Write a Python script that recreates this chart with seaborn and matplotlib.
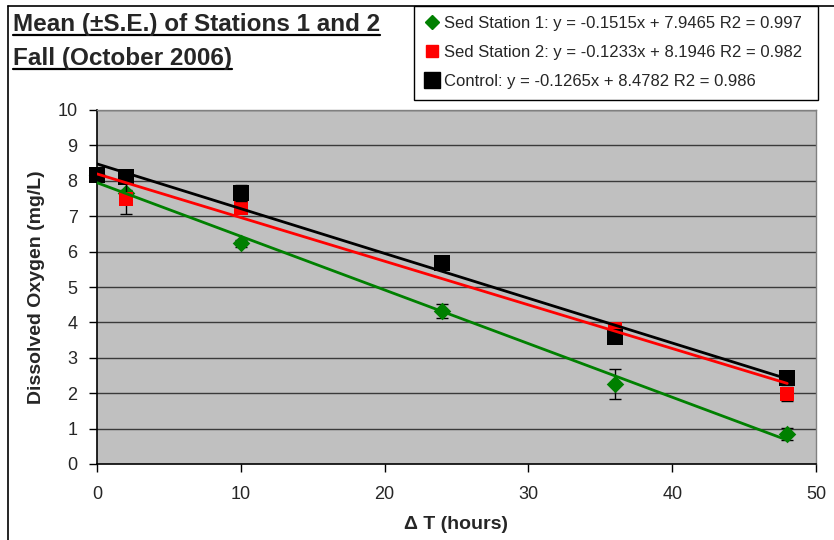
import numpy as np
import pandas as pd
import seaborn as sns
import matplotlib
matplotlib.use("Agg")
import matplotlib.pyplot as plt
from matplotlib.lines import Line2D

# Sampling times (hours after start)
hours = [0, 2, 10, 24, 36, 48]

# Dissolved oxygen means and standard errors (mg/L)
sed1_mean = [8.15, 7.65, 6.23, 4.33, 2.27, 0.85]
sed1_se = [0.00, 0.08, 0.10, 0.20, 0.42, 0.17]
sed2_mean = [8.20, 7.50, 7.22, 5.68, 3.82, 1.98]
sed2_se = [0.00, 0.45, 0.12, 0.05, 0.05, 0.20]
ctrl_mean = [8.16, 8.10, 7.65, 5.67, 3.60, 2.43]
ctrl_se = [0.00, 0.05, 0.23, 0.05, 0.05, 0.05]

series_names = ["Sed Station 1", "Sed Station 2", "Control"]
slopes = [-0.1515, -0.1233, -0.1265]
intercepts = [7.9465, 8.1946, 8.4782]
r2 = [0.997, 0.982, 0.986]
colors = ["#008000", "#FF0000", "#000000"]
markers = ["D", "s", "s"]
marker_sizes = [80, 100, 130]

x_ticks = [0, 10, 20, 30, 40, 50]
y_ticks = list(range(0, 11))

title_lines = ["Mean (\u00b1S.E.) of Stations 1 and 2", "Fall (October 2006)"]

means = [sed1_mean, sed2_mean, ctrl_mean]
ses = [sed1_se, sed2_se, ctrl_se]

df = pd.concat(
    [pd.DataFrame({"hours": hours, "do": m, "se": s, "series": n})
     for m, s, n in zip(means, ses, series_names)],
    ignore_index=True,
)

sns.set_style("white", {"axes.facecolor": "#C0C0C0"})
plt.rcParams["font.family"] = ["Liberation Sans", "DejaVu Sans"]

fig = plt.figure(figsize=(8.34, 5.40), dpi=100)
W, H = 834, 540
ax = fig.add_axes([97 / W, 1 - 464 / H, (816 - 97) / W, (464 - 110) / H])

# horizontal grid
for yv in y_ticks[1:]:
    ax.axhline(yv, color="#3a3a3a", lw=1.0, zorder=1)

# markers and error bars, series by series so later ones sit on top
for i, name in enumerate(series_names):
    sub = df[df["series"] == name]
    sns.scatterplot(data=sub, x="hours", y="do", marker=markers[i],
                    color=colors[i], s=marker_sizes[i], linewidth=0,
                    ax=ax, zorder=3 + i, legend=False, clip_on=False)
    has_err = sub["se"] > 0
    ax.errorbar(sub["hours"][has_err], sub["do"][has_err],
                yerr=sub["se"][has_err], fmt="none", ecolor="black",
                elinewidth=1, capsize=4, capthick=1, zorder=2.5 + i)

# linear trendlines from the fitted equations
xfit = np.array([0, 48])
for i, name in enumerate(series_names):
    fit = pd.DataFrame({"hours": xfit, "do": slopes[i] * xfit + intercepts[i]})
    sns.lineplot(data=fit, x="hours", y="do", color=colors[i], lw=2,
                 ax=ax, zorder=7 + i, legend=False)

ax.set_xlim(0, 50)
ax.set_ylim(0, 10)
ax.set_xticks(x_ticks)
ax.set_yticks(y_ticks)
ax.tick_params(axis="both", direction="out", length=6, width=1,
               color="black", labelsize=13, left=True, bottom=True)
ax.tick_params(axis="x", pad=10)
ax.tick_params(axis="y", pad=8)
for side in ["left", "bottom"]:
    ax.spines[side].set_color("black")
    ax.spines[side].set_linewidth(1.2)
for side in ["top", "right"]:
    ax.spines[side].set_color("#808080")
    ax.spines[side].set_linewidth(1)
ax.set_xlabel("\u0394 T (hours)", fontsize=14, fontweight="bold", labelpad=9)
ax.set_ylabel("Dissolved Oxygen (mg/L)", fontsize=14, fontweight="bold",
              labelpad=9)

# outer chart border
fig.add_artist(Line2D([8 / W, 8 / W], [0, 1 - 6 / H], color="black", lw=1.2))
fig.add_artist(Line2D([8 / W, 1], [1 - 6 / H, 1 - 6 / H], color="black", lw=1.2))

# title with underline
renderer = fig.canvas.get_renderer()
for line, ybase in zip(title_lines, [31, 65]):
    t = fig.text(13 / W, 1 - ybase / H, line, fontsize=17.5, fontweight="bold",
                 ha="left", va="baseline")
    bb = t.get_window_extent(renderer)
    yu = 1 - (ybase + 4) / H
    fig.add_artist(Line2D([bb.x0 / W, bb.x1 / W], [yu, yu], color="black",
                          lw=1.6))

# legend
handles = [Line2D([], [], marker=markers[i], color=colors[i], linestyle="none",
                  markersize=[7, 8, 11][i]) for i in range(3)]
labels = [f"{n}: y = {s}x + {b} R2 = {r}"
          for n, s, b, r in zip(series_names, slopes, intercepts, r2)]
leg = fig.legend(handles, labels, loc="upper left",
                 bbox_to_anchor=(414 / W, 1 - 97 / H, (818 - 414) / W, 91 / H),
                 mode="expand", fontsize=12, frameon=True, fancybox=False,
                 edgecolor="black", facecolor="white", framealpha=1,
                 borderpad=0.62, labelspacing=0.84, handlelength=0.9,
                 handletextpad=0.25, borderaxespad=0)
leg.get_frame().set_linewidth(1.0)

fig.savefig("out.png", dpi=100, facecolor="white")
